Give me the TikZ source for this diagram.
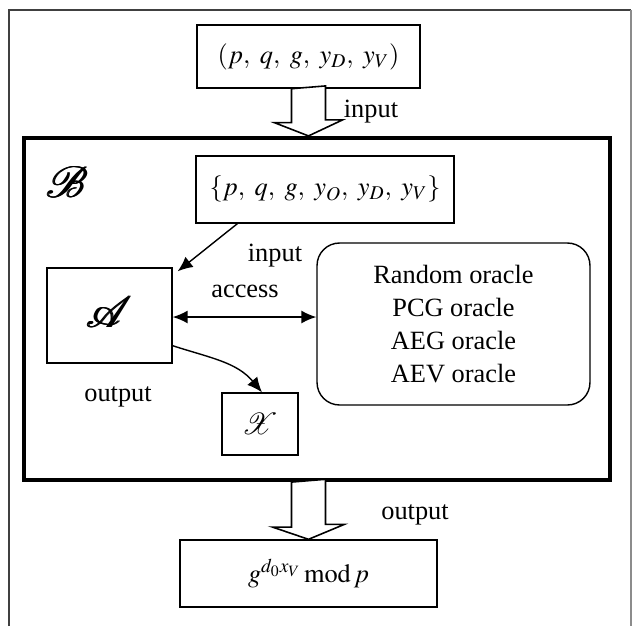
\documentclass[tikz,border=0pt]{standalone}
\usepackage{mathptmx}
\usepackage{mathrsfs}
\usepackage{fontspec}
\setmainfont{Liberation Serif}
\usetikzlibrary{positioning,calc,arrows.meta}

\begin{document}
\begin{tikzpicture}
  [x=0.02cm,y=-0.02cm,thick,
   txt/.style={font=\fontsize{15}{18.7}\selectfont},
   box/.style={draw,txt,inner sep=0pt},
   hollow/.style={draw,fill=white,line width=0.9pt},
   arr/.style={-{Latex[length=0.3cm,width=0.26cm]}},
  ]
 \useasboundingbox (0,0) rectangle (632,626);

 % outer frame
 \draw[line width=1.4pt,black!75] (9,626) -- (9,10) -- (631,10);
 \draw[line width=1pt,black!45] (631,10) -- (631,626);

 \node[box,minimum width=4.46cm,minimum height=1.26cm] (pars) at (308.5,56.5)
   {$(p,\ q,\ g,\ y_D,\ y_V)$};
 \node[draw,line width=2.4pt,minimum width=11.72cm,minimum height=6.84cm] (B) at (317,309) {};
 \foreach \dx in {0,0.8,1.6}
   \node[font=\fontsize{62}{62}\selectfont] (Bl) at (66+\dx,182) {$\mathscr{B}$};
 \node[box,minimum width=5.16cm,minimum height=1.34cm] (inpt) at (325,189.5)
   {$\{p,\ q,\ g,\ y_O,\ y_D,\ y_V\}$};
 \node[box,minimum width=2.5cm,minimum height=1.9cm] (A) at (109.5,315.5) {};
 \foreach \dx in {0,0.8,1.6}
   \node[font=\fontsize{40}{40}\selectfont] (Al) at (108+\dx,312) {$\mathscr{A}$};
 \node[box,rounded corners=0.45cm,minimum width=5.46cm,minimum height=3.24cm,align=center] (orc) at (453.5,324)
   {Random oracle\\PCG oracle\\AEG oracle\\AEV oracle};
 \node[box,minimum width=1.52cm,minimum height=1.24cm,font=\fontsize{17}{17}\selectfont] (X) at (260,424) {$\mathscr{X}$};
 \node[box,minimum width=5.14cm,minimum height=1.34cm] (res) at (308.5,573.5)
   {$g^{d_0x_V}\,\mathrm{mod}\,p$};

 % hollow arrows
 \coordinate (t1) at (pars.south |- B.north);
 \draw[hollow] ($(pars.south)+(-17,0)$) -- ++(0,34) -- ++(-17,0) -- (t1)
   -- ++(34,-16) -- ++(-17,0) -- ++(0,-34) -- cycle;
 \draw[hollow] ($(res.north |- B.south)+(-17,0)$) -- ++(0,45) -- ++(-19,0) -- (res.north)
   -- ++(36,-15) -- ++(-19,0) -- ++(0,-45) -- cycle;

 \node[txt] (lin1) at (371,112) {input};
 \node[txt] (lin2) at (275,256) {input};
 \node[txt] (lacc) at (245,291) {access};
 \node[txt] (lout1) at (118,397) {output};
 \node[txt] (lout2) at (415,515) {output};

 \draw[arr] ($(inpt.south west)+(42,0)$) -- ($(A.north east)+(5,4)$);
 \draw[{Latex[length=0.3cm,width=0.26cm]}-{Latex[length=0.3cm,width=0.26cm]}]
   (A.east |- 0,317) -- (orc.west |- 0,317);
 \draw[arr] ($(A.south east)+(0,-18)$) to[out=-18,in=130] ($(X.north)+(2,0)$);
\end{tikzpicture}
\end{document}
